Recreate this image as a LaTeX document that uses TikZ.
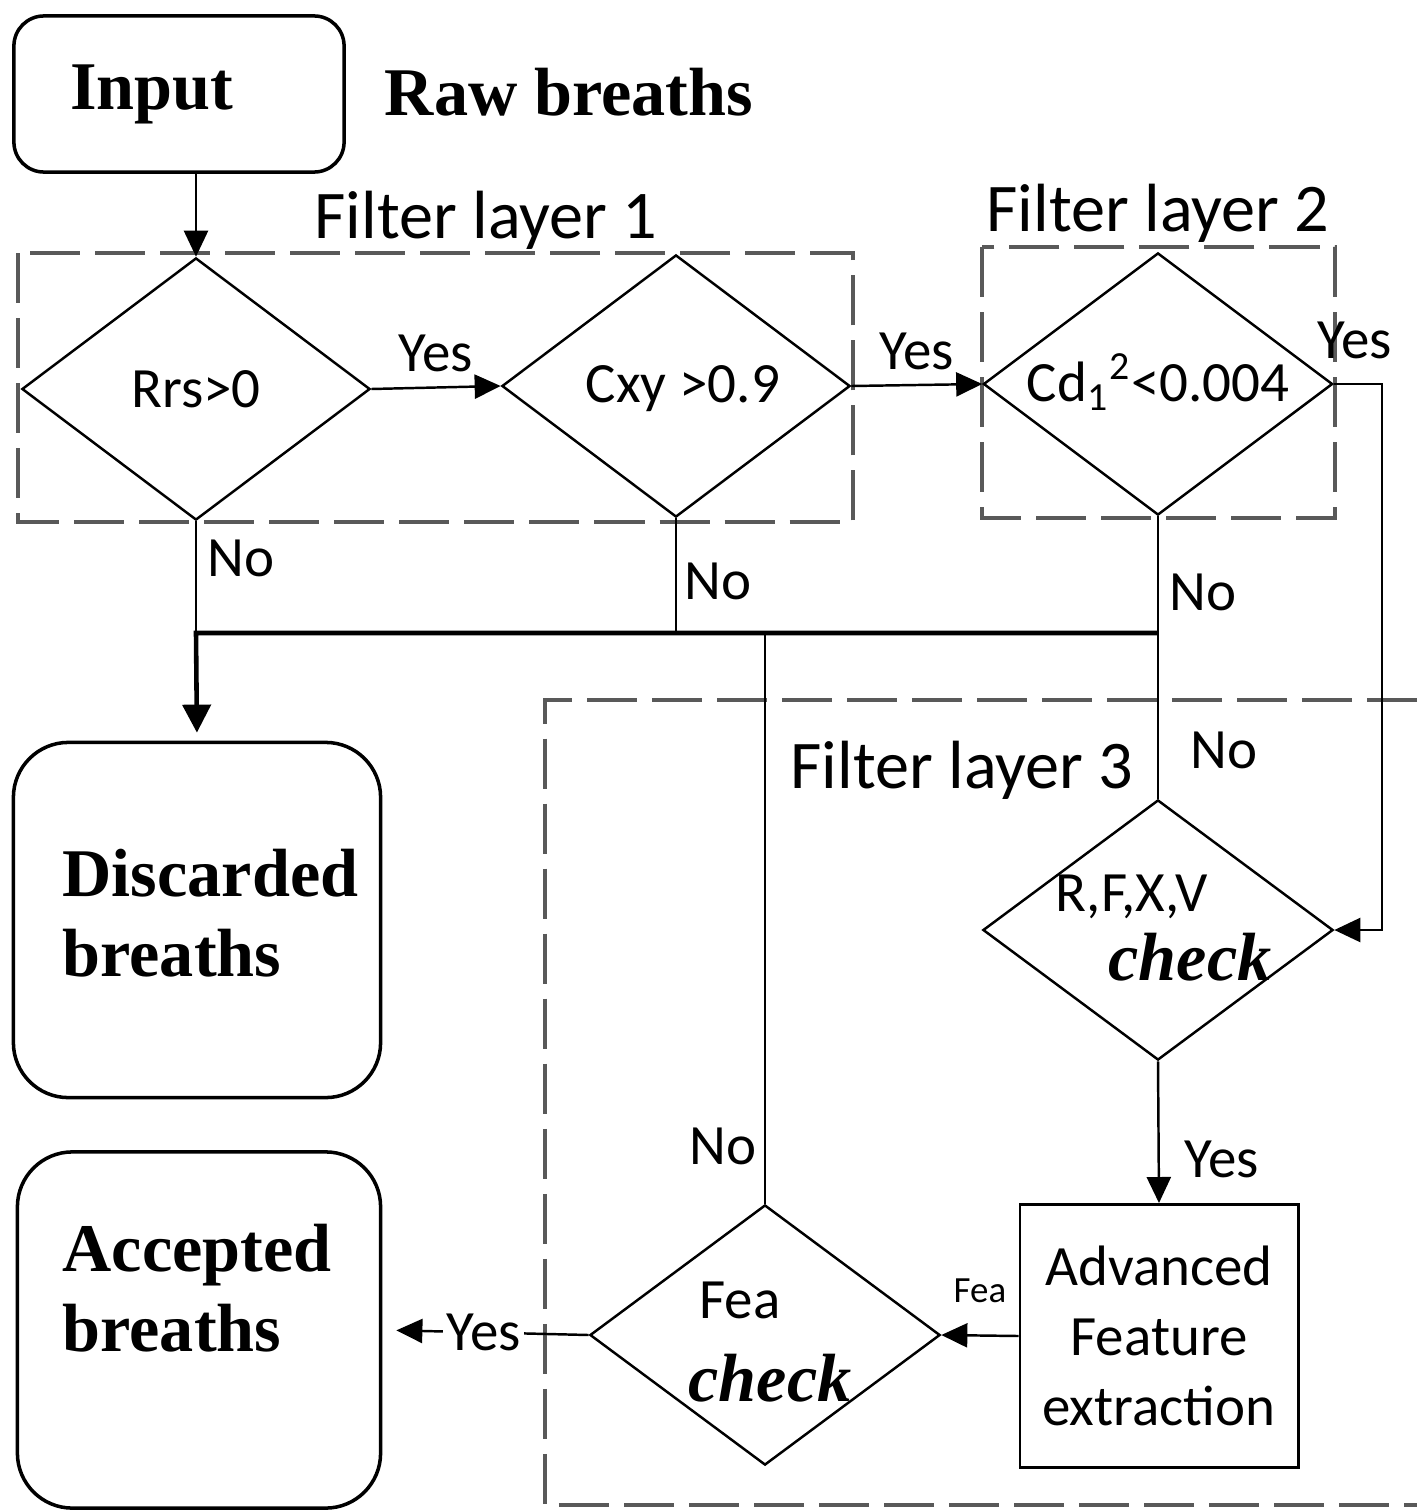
\documentclass[tikz,border=0pt]{standalone}
\usepackage{fontspec}
\setmainfont{Liberation Serif}
\setsansfont{Carlito}
\usetikzlibrary{arrows.meta,positioning,shapes.geometric}

\begin{document}
\begin{tikzpicture}[x=0.01cm, y=-0.01cm,
  dec/.style={draw, diamond, line width=0.7pt, minimum width=3.48cm, minimum height=2.62cm,
              inner sep=0pt, font=\sffamily\fontsize{16.2}{19}\selectfont},
  term/.style={draw, line width=1pt, rounded corners=0.55cm},
  proc/.style={draw, line width=0.8pt, minimum width=2.78cm, minimum height=2.63cm,
               align=center, font=\sffamily\fontsize{16.2}{19.9}\selectfont},
  layer/.style={draw=gray!70!black, line width=0.9pt, dash pattern=on 0.5cm off 0.15cm},
  lyr/.style={font=\sffamily\fontsize{19.4}{22}\selectfont, inner sep=0pt},
  lbl/.style={font=\sffamily\fontsize{16.2}{19}\selectfont, inner sep=1pt},
  big/.style={font=\bfseries\fontsize{19.4}{22.8}\selectfont, align=left, inner sep=0pt},
  chk/.style={font=\bfseries\itshape\fontsize{19.4}{22}\selectfont, inner sep=0pt},
  arr/.style={-{Triangle[length=0.26cm,width=0.24cm]}, line width=0.7pt},
  ln/.style={line width=0.7pt},
  bus/.style={line width=1.3pt}
]
  \useasboundingbox (0,0) rectangle (1417,1512);

  % top: input
  \node[term, rounded corners=0.3cm, minimum width=3.30cm, minimum height=1.56cm,
        font=\bfseries\fontsize{19.4}{22}\selectfont] (inp) at (179,94) {Input\kern0.54cm};
  \node[big] (raw) at (569,92) {Raw breaths};

  % filter layers
  \draw[layer] (18,253) rectangle (853,522);
  \node[lyr] (lay1) at (486,220) {Filter layer 1};
  \draw[layer] (982,247) rectangle (1335,518);
  \node[lyr] (lay2) at (1158,213) {Filter layer 2};
  \draw[layer] (1417,700) -- (545,700) -- (545,1505) -- (1417,1505);
  \node[lyr] (lay3) at (962,770) {Filter layer 3};

  % decisions
  \node[dec] (d1) at (196,389) {};
  \node[lbl] (d1t) at (196,389) {Rrs>0};
  \node[dec] (d2) at (676,386) {};
  \node[lbl] (d2t) at (683,389) {Cxy >0.9};
  \node[dec, minimum width=3.49cm] (d3) at (1158,384) {};
  \node[lbl] (d3t) at (1158,382) {Cd\textsubscript{1}\textsuperscript{2}<0.004};
  \node[dec, minimum width=3.50cm, minimum height=2.60cm] (d4) at (1158,930) {};
  \node[lbl] (d4a) at ([shift={(-26,-33)}]d4.center) {R,F,X,V};
  \node[chk] (d4b) at ([shift={(32,27)}]d4.center) {check};
  \node[dec, minimum width=3.50cm, minimum height=2.60cm] (fea) at (765,1335) {};
  \node[lbl] (feaa) at ([shift={(-25,-35)}]fea.center) {Fea};
  \node[chk] (feab) at ([shift={(5,43)}]fea.center) {check};

  \node[proc] (adv) at (1159,1336) {Advanced\\Feature\\extraction};

  % outputs
  \node[term, minimum width=3.67cm, minimum height=3.55cm] (dis) at (197,920) {};
  \node[big, anchor=west] (disT) at (62,913) {Discarded\\breaths};
  \node[term, minimum width=3.63cm, minimum height=3.56cm] (acc) at (199,1330) {};
  \node[big, anchor=west] (accT) at (62,1288) {Accepted\\breaths};

  \coordinate (bus) at (0,633);

  % connectors
  \draw[arr] (d1.north |- inp.south) -- (d1.north);
  \draw[arr] (d1.east) -- node[lbl, above=3pt] {Yes} (d2.west);
  \draw[arr] (d2.east) -- node[lbl, above=3pt] {Yes} (d3.west);
  \draw[arr] (d3.east) -- ++(48,0) |- (d4.east);
  \node[lbl] (y3) at (1355,340) {Yes};

  \draw[ln] (d1.south) -- node[lbl, right=2pt, pos=0.33] {No} (d1.south |- bus);
  \draw[ln] (d2.south) -- node[lbl, right=1pt, pos=0.55] {No} (d2.south |- bus);
  \draw[ln] (d3.south) -- node[lbl, right=2pt, pos=0.27] {No}
                          node[lbl, right=8pt, pos=0.83] {No} (d4.north);
  \draw[ln] (fea.north) -- node[lbl, left=1pt, pos=0.1] {No} (fea.north |- bus);
  \draw[bus, -{Triangle[length=0.28cm,width=0.28cm]}, shorten >=0.08cm]
    (d3.south |- bus) -- (d1.south |- bus) -- (dis.north);

  \draw[arr] (d4.south) -- node[lbl, right=6pt, pos=0.69] {Yes} (adv.north);
  \draw[arr] (adv.west) -- node[lbl, above=8pt, font=\sffamily\fontsize{10.5}{12}\selectfont] {Fea} (fea.east);
  \draw[arr, shorten >=0.14cm] (fea.west) -- node[lbl, fill=white, pos=0.51] {Yes} (acc.east);
\end{tikzpicture}
\end{document}
